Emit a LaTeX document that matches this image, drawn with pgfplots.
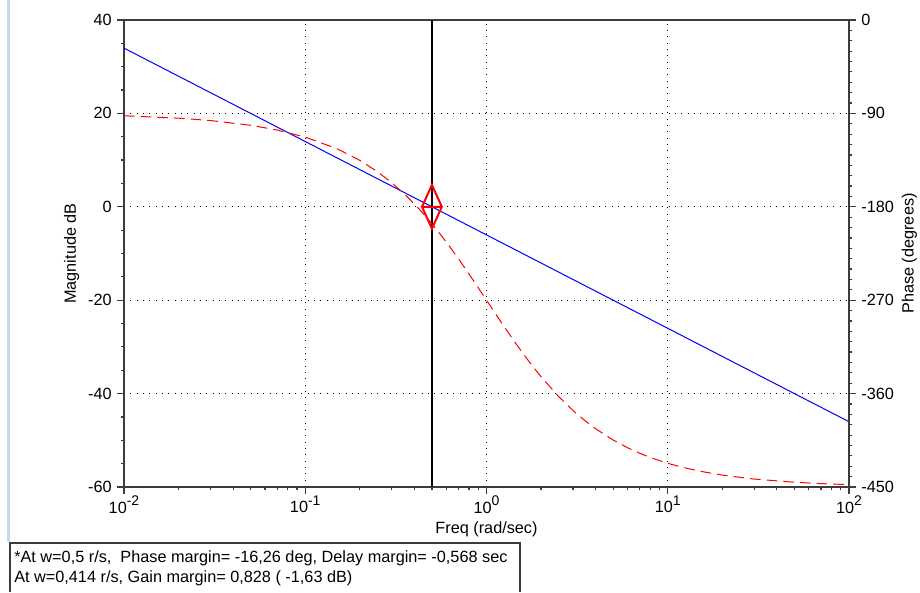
\documentclass[border=0pt]{standalone}
\usepackage{fontspec}
\setmainfont{Liberation Sans}
\usepackage{pgfplots}
\pgfplotsset{compat=1.18}

\definecolor{axisgray}{RGB}{60,60,60}
\definecolor{winblue}{RGB}{197,217,241}

\newcommand{\tenpow}[1]{10\raisebox{0.45em}{\fontsize{10.5}{12}\selectfont #1}}

\pgfplotsset{
  bodestyle/.style={
    scale only axis, width=543.75pt, height=350.25pt,
    at={(93pt,78.75pt)}, anchor=south west,
    xmin=0.01, xmax=100,
    tick align=outside,
    major tick length=5pt, minor tick length=2.5pt,
    axis line style={axisgray, line width=1.2pt},
    every tick/.style={axisgray, line width=0.9pt},
    /pgf/number format/assume math mode=true,
    ticklabel style={font=\fontsize{12.2}{14}\selectfont},
    label style={font=\fontsize{12.2}{14}\selectfont},
  }
}

\begin{document}
\fontsize{12.2}{14}\selectfont
\begin{tikzpicture}[x=0.75pt,y=0.75pt]
\useasboundingbox (0,0) rectangle (920,592);

% window edge and margin box
\draw[winblue, line width=2.25pt] (8.5,50) -- (8.5,592);
\draw[axisgray, line width=0.9pt] (10,0) -- (10,49) -- (520,49) -- (520,0);
\node[anchor=west, inner sep=0pt] at (14,34) {*At w=0,5 r/s,\ \ Phase margin= -16,26 deg, Delay margin= -0,568 sec};
\node[anchor=west, inner sep=0pt] at (14,14) {At w=0,414 r/s, Gain margin= 0,828 ( -1,63 dB)};

% magnitude
\begin{semilogxaxis}[bodestyle,
  ymin=-60, ymax=40, ytick={-60,-40,-20,0,20,40}, minor y tick num=3,
  xtick={0.01,0.1,1,10,100},
  xticklabels={\tenpow{-2},\tenpow{-1},\tenpow{0},\tenpow{1},\tenpow{2}},
  xticklabel style={yshift=2.5pt},
  xtick pos=bottom, ytick pos=left,
  grid=major,
  major grid style={black, line width=0.75pt, dash pattern=on 0.75pt off 4pt},
  xlabel={Freq (rad/sec)}, ylabel={Magnitude dB},
  xlabel style={at={(axis description cs:0.5,-0.09)}, anchor=center},
  ylabel style={at={(axis description cs:-0.072,0.5)}, anchor=center},
]
\addplot[blue, line width=0.75pt] coordinates {(0.01,33.98) (100,-46.02)};
\addplot[black, line width=1.2pt] coordinates {(0.5,-60) (0.5,40)};
\addplot[red, line width=1.5pt] coordinates {(0.441,0) (0.5,4.7) (0.567,0) (0.5,-4.7) (0.441,0) (0.567,0)};
\end{semilogxaxis}

% phase
\begin{semilogxaxis}[bodestyle,
  ymin=-450, ymax=0, ytick={-450,-360,-270,-180,-90,0}, minor y tick num=8,
  axis y line*=right, axis x line=none,
  ylabel={Phase (degrees)},
  ylabel style={at={(axis description cs:1.0834,0.5)}, anchor=center},
]
\addplot[red, line width=0.75pt, dash pattern=on 8pt off 4.5pt] coordinates {
  (0.01,-92.29) (0.02,-94.58) (0.03,-96.87) (0.05,-101.45) (0.07,-106.02)
  (0.1,-112.85) (0.15,-124.12) (0.2,-135.24) (0.25,-146.14) (0.3,-156.80)
  (0.35,-167.16) (0.4,-177.21) (0.45,-186.91) (0.5,-196.26) (0.6,-213.86)
  (0.7,-229.97) (0.8,-244.64) (0.9,-257.95) (1.0,-270.00) (1.2,-290.78)
  (1.4,-307.85) (1.6,-321.98) (1.8,-333.78) (2.0,-343.74) (2.5,-362.80)
  (3,-376.26) (3.5,-386.22) (4,-393.86) (5,-404.76) (6,-412.15)
  (7,-417.48) (8,-421.50) (10,-427.16) (12,-430.94) (15,-434.74)
  (20,-438.55) (30,-442.36) (50,-445.42) (70,-446.73) (100,-447.71)
};
\end{semilogxaxis}
\end{tikzpicture}
\end{document}
